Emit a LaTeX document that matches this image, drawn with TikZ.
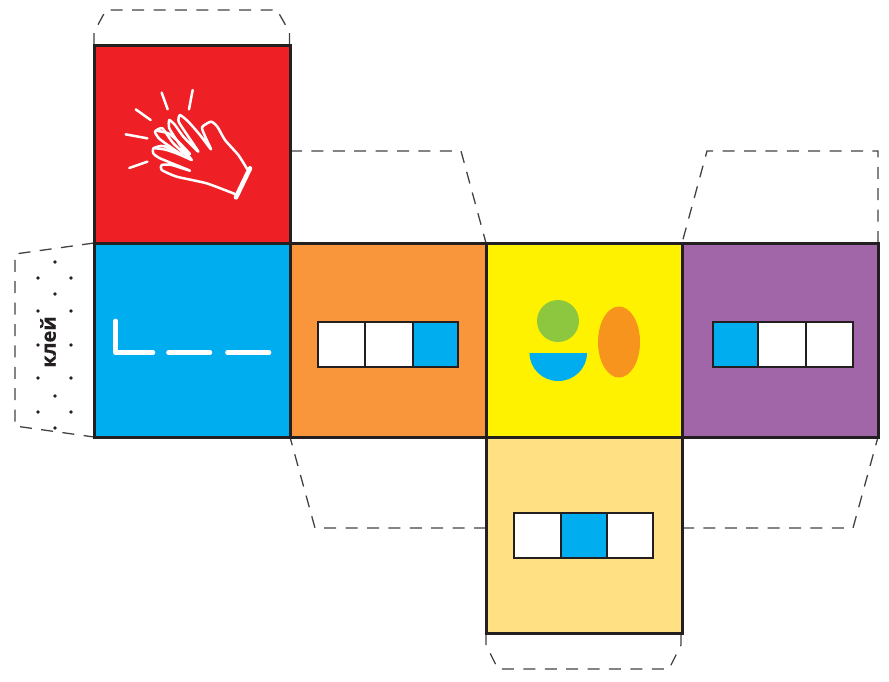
\documentclass[tikz,border=0pt]{standalone}
\usepackage{fontspec}
\setmainfont{Open Sans}
\newfontfamily\gluefont[BoldFeatures={FakeBold=0.5}]{Open Sans}
\definecolor{cred}{HTML}{EE1F25}
\definecolor{cblue}{HTML}{00AEEF}
\definecolor{corange}{HTML}{F9963B}
\definecolor{cyellow}{HTML}{FFF200}
\definecolor{cpurple}{HTML}{A066A8}
\definecolor{cbeige}{HTML}{FFE082}
\definecolor{cgreen}{HTML}{8DC63F}
\definecolor{coval}{HTML}{F7941E}
\definecolor{cink}{HTML}{231F20}
\tikzset{
  face/.style={draw=cink,line width=3pt,line join=miter},
  tabline/.style={draw=cink!85,line width=1.3pt,dash pattern=on 12pt off 9.4pt},
  cell/.style={draw=cink,line width=2.6pt,fill=white},
  bluecell/.style={draw=cink,line width=2.6pt,fill=cblue},
  stroke/.style={draw=white,line width=4.6pt,line cap=round,line join=round},
  handline/.style={draw=white,line width=2.5pt,line cap=round,line join=round},
  ray/.style={draw=white,line width=2.5pt,line cap=round},
  gluedot/.style={fill=cink,circle,inner sep=0pt,minimum size=3.6pt},
}
\begin{document}
\begin{tikzpicture}[x=1pt,y=-1pt]
\useasboundingbox (0,0) rectangle (889,681);
% glue tabs
\draw[tabline] (94,45) -- (94,32) -- (106,10) -- (277,10) -- (289.5,32) -- (289.5,45);
\draw[tabline] (290,151) -- (461,151) -- (486,243);
\draw[tabline] (878,243) -- (878,151) -- (707,151) -- (682,243);
\draw[tabline] (486,528) -- (315,528) -- (290,437);
\draw[tabline] (682,528) -- (853,528) -- (878,437);
\draw[tabline] (486,633) -- (486,645) -- (498,669) -- (669,669) -- (681,645) -- (681,633);
\draw[tabline] (94,243) -- (15,254) -- (15,426) -- (94,437);
% glue dots
\foreach \px/\py in {55/262,38/278,71/278,55/294,38/311,71/311,38/345,71/345,38/378,71/378,55/396,38/412,71/412,55/428}
  \node[gluedot] at (\px,\py) {};
\node[rotate=90,font=\gluefont\bfseries\fontsize{20}{22}\selectfont,text=cink,inner sep=0pt] (glue) at (48,342) {клей};
% faces
\path[face,fill=cred] (94,45) rectangle (290,243);
\path[face,fill=cblue] (94,243) rectangle (290,437);
\path[face,fill=corange] (290,243) rectangle (486,437);
\path[face,fill=cyellow] (486,243) rectangle (682,437);
\path[face,fill=cpurple] (682,243) rectangle (878,437);
\path[face,fill=cbeige] (486,437) rectangle (682,633);
% hand
\begin{scope}[shift={(110,80)},x=0.33333pt,y=-0.33333pt]
  \draw[ray] (155,38) -- (173,88);
  \draw[ray] (248,30) -- (237,88);
  \draw[ray] (77,88) -- (122,120);
  \draw[ray] (47,163) -- (112,175);
  \draw[ray] (58,264) -- (112,245);
  \draw[handline] plot[smooth,tension=0.35] coordinates {(412,268) (385,225) (345,180) (322,140) (303,125) (276,142) (288,175) (303,208) (270,165) (235,125) (210,105) (206,125) (235,170) (265,215) (220,170) (195,135) (178,120) (178,145) (210,195) (245,240) (190,190) (157,145) (135,155) (150,178) (215,225) (160,198) (130,205) (130,220) (150,235) (240,272) (185,255) (155,255) (155,270) (200,290) (290,310) (375,342)};
  \draw[handline] plot[smooth,tension=0.4] coordinates {(138,152) (175,160) (205,185) (240,222)};
  \draw[handline] (135,205) .. controls (170,205) and (205,222) .. (245,240);
  \draw[stroke] (420,265) -- (378,352);
\end{scope}
% blue face: corner and dashes
\draw[stroke] (115.5,321) -- (115.5,352.5) -- (153,352.5);
\draw[stroke] (168.5,352.5) -- (210,352.5);
\draw[stroke] (227.5,352.5) -- (269,352.5);
% orange face cells
\path[cell] (318,322) rectangle (365,367);
\path[cell] (365,322) rectangle (413,367);
\path[bluecell] (413,322) rectangle (458,367);
% yellow face shapes
\fill[cgreen] (558,321) circle[radius=21];
\fill[coval] (619,342) ellipse[x radius=21,y radius=35.5];
\fill[cblue] (529.5,353) -- (587,353) arc[start angle=0,end angle=-180,x radius=28.75,y radius=-28] -- cycle;
% purple face cells
\path[bluecell] (713,322) rectangle (758,367);
\path[cell] (758,322) rectangle (806,367);
\path[cell] (806,322) rectangle (853,367);
% beige face cells
\path[cell] (514,513) rectangle (561,558);
\path[bluecell] (561,513) rectangle (607,558);
\path[cell] (607,513) rectangle (653,558);
\end{tikzpicture}
\end{document}
